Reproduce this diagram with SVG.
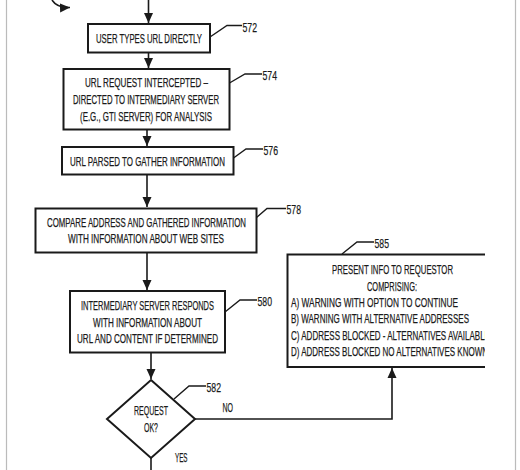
<svg xmlns="http://www.w3.org/2000/svg" width="520" height="470" viewBox="0 0 520 470">
<style>
.box{fill:#fff;stroke:#1a1a1a;stroke-width:2}
.ln{fill:none;stroke:#1a1a1a;stroke-width:1.6}
.ld{fill:none;stroke:#1a1a1a;stroke-width:1.4}
text{font-family:"Liberation Sans",Arial,sans-serif;font-size:13.5px;fill:#1a1a1a;stroke:#1a1a1a;stroke-width:0.25}
</style>
<defs>
<marker id="ah" viewBox="0 0 10 10" refX="10" refY="5" markerWidth="10" markerHeight="10" markerUnits="userSpaceOnUse" orient="auto">
<path d="M0,0.5 L10,5 L0,9.5 Z" fill="#1a1a1a"/>
</marker>
<clipPath id="clipR"><rect x="0" y="0" width="485" height="470"/></clipPath>
</defs>
<rect width="520" height="470" fill="#fff"/>
<line x1="6.5" y1="0" x2="6.5" y2="470" stroke="#bbb" stroke-width="1.2"/>
<line x1="515.5" y1="0" x2="515.5" y2="470" stroke="#bbb" stroke-width="1.2"/>
<g id="connectors">
<path class="ln" d="M52,0 Q57,8 70,7.5" marker-end="url(#ah)"/>
<line class="ln" x1="148.5" y1="0" x2="148.5" y2="23" marker-end="url(#ah)"/>
<line class="ln" x1="148.5" y1="52" x2="148.5" y2="68" marker-end="url(#ah)"/>
<line class="ln" x1="147" y1="129" x2="147" y2="146" marker-end="url(#ah)"/>
<line class="ln" x1="147" y1="174" x2="147" y2="207" marker-end="url(#ah)"/>
<line class="ln" x1="147" y1="252" x2="147" y2="290" marker-end="url(#ah)"/>
<line class="ln" x1="151" y1="352" x2="151" y2="379" marker-end="url(#ah)"/>
<polyline class="ln" points="195,419 392,419 392,368" marker-end="url(#ah)"/>
<line class="ln" x1="151" y1="458" x2="151" y2="470"/>
<text x="222.5" y="412" textLength="10.5" lengthAdjust="spacingAndGlyphs">NO</text>
<text x="175" y="461.5" textLength="12.5" lengthAdjust="spacingAndGlyphs">YES</text>
</g>
<g id="n572">
<rect class="box" x="88" y="24" width="122" height="28.5"/>
<text x="96" y="43" textLength="106" lengthAdjust="spacingAndGlyphs">USER TYPES URL DIRECTLY</text>
<polyline class="ld" points="210,37 227,25.5 242,25.5"/>
<text x="242.5" y="31.5" textLength="14.5" lengthAdjust="spacingAndGlyphs">572</text>
</g>
<g id="n574">
<rect class="box" x="63.5" y="69" width="166" height="60.5"/>
<text x="85" y="87" textLength="123" lengthAdjust="spacingAndGlyphs">URL REQUEST INTERCEPTED –</text>
<text x="73" y="104" textLength="146" lengthAdjust="spacingAndGlyphs">DIRECTED TO INTERMEDIARY SERVER</text>
<text x="80" y="120.5" textLength="132" lengthAdjust="spacingAndGlyphs">(E.G., GTI SERVER) FOR ANALYSIS</text>
<polyline class="ld" points="229.5,83 245,74 262,74"/>
<text x="262.5" y="80" textLength="14.5" lengthAdjust="spacingAndGlyphs">574</text>
</g>
<g id="n576">
<rect class="box" x="62" y="147" width="171.5" height="27.5"/>
<text x="70" y="165.5" textLength="155" lengthAdjust="spacingAndGlyphs">URL PARSED TO GATHER INFORMATION</text>
<polyline class="ld" points="233.5,158 246,149 263,149"/>
<text x="263.5" y="155" textLength="14.5" lengthAdjust="spacingAndGlyphs">576</text>
</g>
<g id="n578">
<rect class="box" x="35.5" y="208.5" width="221" height="44"/>
<text x="47" y="226.5" textLength="199" lengthAdjust="spacingAndGlyphs">COMPARE ADDRESS AND GATHERED INFORMATION</text>
<text x="68" y="243" textLength="156" lengthAdjust="spacingAndGlyphs">WITH INFORMATION ABOUT WEB SITES</text>
<polyline class="ld" points="256.5,217.5 267,208.5 286,208.5"/>
<text x="286.5" y="214" textLength="14.5" lengthAdjust="spacingAndGlyphs">578</text>
</g>
<g id="n580">
<rect class="box" x="70" y="291" width="155" height="61.5"/>
<text x="81" y="310" textLength="133" lengthAdjust="spacingAndGlyphs">INTERMEDIARY SERVER RESPONDS</text>
<text x="93" y="326.5" textLength="109" lengthAdjust="spacingAndGlyphs">WITH INFORMATION ABOUT</text>
<text x="77" y="343" textLength="141" lengthAdjust="spacingAndGlyphs">URL AND CONTENT IF DETERMINED</text>
<polyline class="ld" points="225,312 240,300 257,300"/>
<text x="257.5" y="305.5" textLength="14.5" lengthAdjust="spacingAndGlyphs">580</text>
</g>
<g id="n582">
<polygon class="box" points="151,380 195,419 151,458 107,419"/>
<text x="134" y="415" textLength="34" lengthAdjust="spacingAndGlyphs">REQUEST</text>
<text x="144" y="431.5" textLength="14" lengthAdjust="spacingAndGlyphs">OK?</text>
<polyline class="ld" points="174,399 189,386 206,386"/>
<text x="206.5" y="391.5" textLength="14.5" lengthAdjust="spacingAndGlyphs">582</text>
</g>
<g id="n585">
<g clip-path="url(#clipR)">
<path class="box" d="M500,254.5 L287.5,254.5 L287.5,367 L500,367" fill="#fff"/>
<text x="332" y="274" textLength="121" lengthAdjust="spacingAndGlyphs">PRESENT INFO TO REQUESTOR</text>
<text x="367" y="290.5" textLength="50" lengthAdjust="spacingAndGlyphs">COMPRISING:</text>
<text x="291" y="306.5" textLength="167" lengthAdjust="spacingAndGlyphs">A) WARNING WITH OPTION TO CONTINUE</text>
<text x="291" y="323" textLength="178" lengthAdjust="spacingAndGlyphs">B) WARNING WITH ALTERNATIVE ADDRESSES</text>
<text x="291" y="339.5" textLength="199" lengthAdjust="spacingAndGlyphs">C) ADDRESS BLOCKED - ALTERNATIVES AVAILABLE</text>
<text x="291" y="356" textLength="197" lengthAdjust="spacingAndGlyphs">D) ADDRESS BLOCKED NO ALTERNATIVES KNOWN</text>
</g>
<polyline class="ld" points="342,254 357,242 374,242"/>
<text x="374.5" y="247.5" textLength="14.5" lengthAdjust="spacingAndGlyphs">585</text>
</g>
</svg>
